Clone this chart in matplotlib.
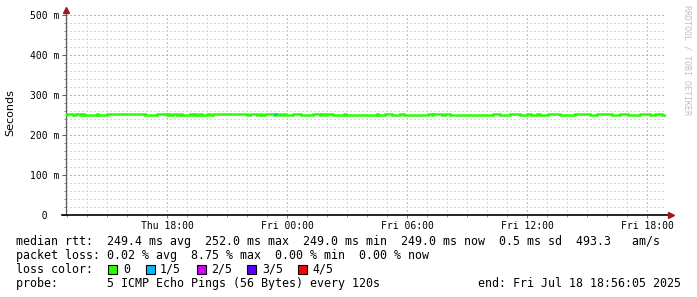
import matplotlib
matplotlib.use("Agg")
import matplotlib.pyplot as plt
from matplotlib.patches import Rectangle
from matplotlib.ticker import MultipleLocator
import numpy as np

# ---------------- data ----------------
# time axis in hours since Thu 00:00 (end: Fri Jul 18 18:56:05 2025, 30 h window)
t_start = 12.935
t_end = 42.935
base_rtt = 249.0      # ms, baseline median rtt
elev_rtt = 251.5      # ms, slightly raised median rtt
elev_start = [12.99, 13.44, 13.74, 14.49, 14.99, 17.49, 18.04, 18.29, 18.64, 19.14,
              19.39, 19.64, 19.99, 20.29, 22.14, 22.64, 22.89, 23.49, 23.79, 24.29,
              25.29, 25.74, 25.99, 26.84, 28.49, 28.89, 29.64, 31.04, 31.29, 31.89,
              34.29, 35.14, 35.99, 36.49, 37.04, 38.39, 39.49, 40.64, 41.64, 42.39]
elev_end = [13.29, 13.64, 13.84, 14.54, 16.89, 17.99, 18.14, 18.49, 18.74, 19.29,
            19.49, 19.74, 20.14, 21.99, 22.49, 22.74, 23.34, 23.64, 23.94, 24.69,
            25.64, 25.89, 26.29, 26.94, 28.54, 29.24, 29.84, 31.24, 31.74, 32.14,
            34.64, 35.64, 36.19, 36.64, 37.64, 39.14, 40.24, 41.04, 42.14, 42.74]
loss_start = 23.34    # period with 1/5 loss
loss_end = 23.49
loss_rtt = 252.5

xtick_pos = [18, 24, 30, 36, 42]
xtick_labels = ["Thu 18:00", "Fri 00:00", "Fri 06:00", "Fri 12:00", "Fri 18:00"]
ytick_pos = [0, 100, 200, 300, 400, 500]
ytick_labels = ["  0", "100 m", "200 m", "300 m", "400 m", "500 m"]

line_rtt = "median rtt:  249.4 ms avg  252.0 ms max  249.0 ms min  249.0 ms now  0.5 ms sd  493.3   am/s"
line_loss = "packet loss: 0.02 % avg  8.75 % max  0.00 % min  0.00 % now"
loss_title = "loss color:"
loss_labels = ["0", "1/5", "2/5", "3/5", "4/5"]
loss_colors = ["#26ff00", "#00b8ff", "#d000ff", "#5500ff", "#ff0000"]
line_probe = "probe:       5 ICMP Echo Pings (56 Bytes) every 120s"
line_end = "end: Fri Jul 18 18:56:05 2025"
watermark = "RRDTOOL / TOBI OETIKER"
ylabel = "Seconds"

# ---------------- figure ----------------
W, H = 697, 297
fig = plt.figure(figsize=(W / 100, H / 100), dpi=100)
fig.patch.set_facecolor("white")
ax = fig.add_axes([66 / W, 82 / H, 600 / W, 200 / H])
ax.set_facecolor("white")
ax.set_xlim(t_start, t_end)
ax.set_ylim(0, 500)

MONO = "DejaVu Sans Mono"
minor_c = "#d6d6d6"
major_c = "#e3a3a3"
dot = (0, (1.39, 2.78))   # 1 px on, 2 px off

# grid
ax.xaxis.set_minor_locator(MultipleLocator(1))
ax.yaxis.set_minor_locator(MultipleLocator(20))
ax.grid(which="minor", axis="both", color=minor_c, lw=0.72, ls=dot, zorder=0,
        antialiased=False)
for h in np.arange(15, t_end, 3):
    ax.axvline(h, color=major_c, lw=0.72, ls=dot, zorder=0.5, antialiased=False)
for v in ytick_pos[1:]:
    ax.axhline(v, color=major_c, lw=0.72, ls=dot, zorder=0.5, antialiased=False)
ax.set_axisbelow(True)

# data line
times = [t_start]
vals = [base_rtt]
for s, e in zip(elev_start, elev_end):
    times += [s, e]
    vals += [elev_rtt, base_rtt]
times.append(t_end)
vals.append(base_rtt)
ax.step(times, vals, where="post", color=loss_colors[0], lw=1.8, zorder=3,
        solid_joinstyle="miter")
ax.plot([loss_start, loss_end], [loss_rtt, loss_rtt], color=loss_colors[1], lw=1.8, zorder=4,
        solid_capstyle="butt")

# ticks
ax.set_xticks(xtick_pos, xtick_labels)
ax.set_yticks(ytick_pos, ytick_labels)
ax.tick_params(axis="x", which="major", length=2, width=0.72, color="#808080", pad=2.4,
               labelsize=7, direction="out")
ax.tick_params(axis="x", which="minor", length=1.5, width=0.72, color="#a0a0a0", direction="out")
ax.tick_params(axis="y", which="major", length=3, width=0.72, color="#606060", pad=23.0,
               labelsize=7, direction="out")
ax.tick_params(axis="y", which="minor", length=1.5, width=0.72, color="#909090", direction="out")
for lab in ax.get_xticklabels() + ax.get_yticklabels():
    lab.set_family(MONO)
for lab in ax.get_yticklabels():
    lab.set_ha("left")

# spines
for s in ["top", "right"]:
    ax.spines[s].set_visible(False)
ax.spines["left"].set_color("#606060")
ax.spines["left"].set_linewidth(0.9)
ax.spines["bottom"].set_visible(False)
ax.plot([-4 / 600, 1.006], [0, 0], transform=ax.transAxes, color="black", lw=1.2,
        clip_on=False, zorder=5)
ax.plot([0, 0], [1.0, 1.02], transform=ax.transAxes, color="#606060", lw=0.9,
        clip_on=False, zorder=5)
ax.plot([1.009], [0], transform=ax.transAxes, marker=">", ms=4, color="#a01818",
        mec="#a01818", clip_on=False, zorder=6)
ax.plot([0], [1.027], transform=ax.transAxes, marker="^", ms=4, color="#a01818",
        mec="#a01818", clip_on=False, zorder=6)

# y label
fig.text(10 / W, 1 - 113 / H, ylabel, rotation=90, ha="center", va="center",
         family="DejaVu Sans", size=8)

# watermark
fig.text(687 / W, 1 - 5 / H, watermark, rotation=270, ha="center", va="top",
         family=MONO, size=6, color="#c0c0c0")

# legend text
FS = 8.4
def ftext(x, y, s, **kw):
    fig.text(x / W, 1 - y / H, s, family=MONO, size=FS, va="center", ha="left", **kw)

ftext(16.5, 241.5, line_rtt)
ftext(16.5, 255.5, line_loss)
ftext(16.5, 269.5, loss_title)
box_x = [108, 146, 197, 247, 298]
lab_x = [123, 160, 211, 262, 312]
for bx, lx, lab, col in zip(box_x, lab_x, loss_labels, loss_colors):
    fig.patches.append(Rectangle((bx / W, 1 - 273.5 / H), 8.5 / W, 8.5 / H,
                                 transform=fig.transFigure, facecolor=col,
                                 edgecolor="black", lw=0.8))
    ftext(lx, 269.5, lab)
ftext(16.5, 283.5, line_probe)
ftext(478, 283.5, line_end)

fig.savefig("out.png", dpi=100, facecolor="white")
